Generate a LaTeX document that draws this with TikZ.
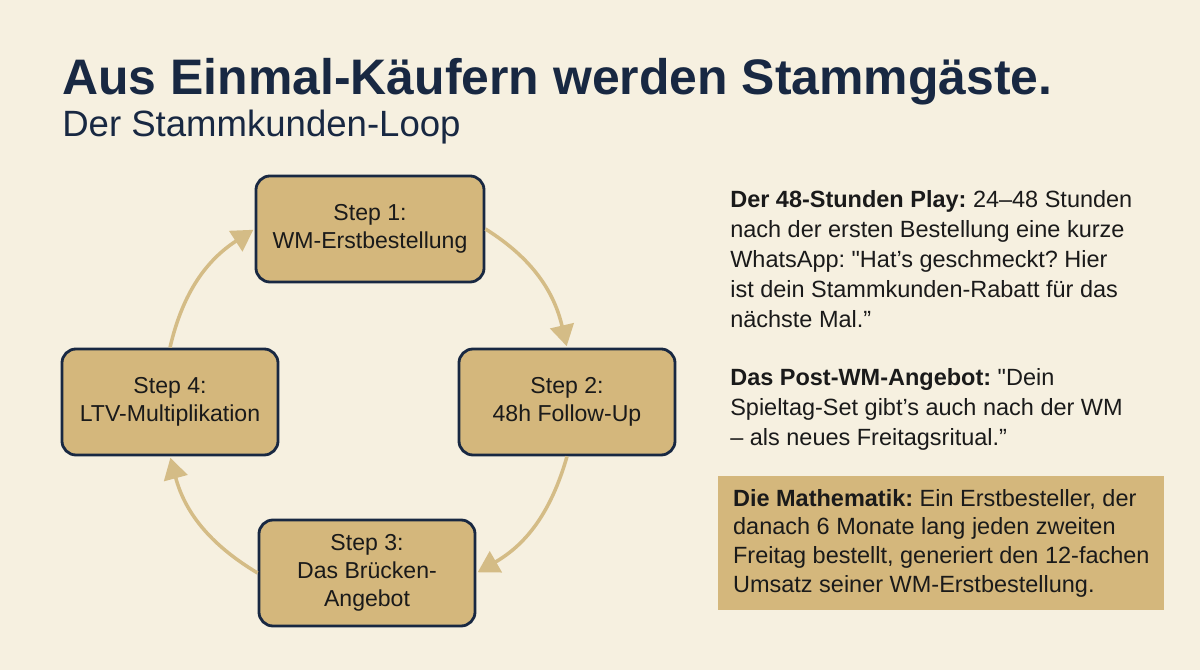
\documentclass[tikz,border=0pt]{standalone}
\usepackage{fontspec}
\setmainfont{Liberation Sans}
\setsansfont{Liberation Sans}
\usepackage{xcolor}
\usetikzlibrary{arrows.meta, positioning}

\definecolor{cream}{RGB}{246,240,224}
\definecolor{boxtan}{RGB}{212,183,124}
\definecolor{looptan}{RGB}{212,188,134}
\definecolor{navy}{RGB}{24,40,66}
\definecolor{ink}{RGB}{26,26,26}

\frenchspacing

\begin{document}
\begin{tikzpicture}[
        x=0.025cm, y=0.025cm,
        font=\sffamily,
        stepbox/.style={
            draw=navy,
            fill=boxtan,
            line width=2pt,
            rounded corners=10pt,
            align=center,
            text=ink,
            minimum width=5.4cm,
            minimum height=2.65cm,
            font=\sffamily\fontsize{16.4}{20}\selectfont
        },
        cycarrow/.style={
            draw=looptan,
            line width=2.5pt,
            -{Triangle[length=15pt, width=17pt]},
            shorten >=1pt
        },
        notetext/.style={
            anchor=north west,
            align=left,
            inner sep=0pt,
            text=ink,
            font=\sffamily\fontsize{16.7}{21.3}\selectfont
        }
    ]

        \fill[cream] (0,0) rectangle (1200,670);
        \useasboundingbox (0,0) rectangle (1200,670);

        \node[anchor=base west, inner sep=0pt, text=navy, font=\sffamily\bfseries\fontsize{35.5}{40}\selectfont] (title) at (62,575) {Aus Einmal-Käufern werden Stammgäste.};
        \node[anchor=base west, inner sep=0pt, text=navy, font=\sffamily\fontsize{26}{30}\selectfont] (subtitle) at (62,533) {Der Stammkunden-Loop};

        % der Loop
        \node[stepbox, minimum width=5.7cm] (s1) at (370,441) {Step 1:\\WM-Erstbestellung};
        \node[stepbox] (s2) at (567,268) {Step 2:\\48h Follow-Up};
        \node[stepbox] (s3) at (367,97) {Step 3:\\Das Brücken-\\Angebot};
        \node[stepbox] (s4) at (170,268) {Step 4:\\LTV-Multiplikation};

        \draw[cycarrow] (s1.east) to[out=-32, in=103] (s2.north);
        \draw[cycarrow] (s2.south) to[out=-106, in=30] (s3.east);
        \draw[cycarrow] (s3.west) to[out=149, in=-75] (s4.south);
        \draw[cycarrow] (s4.north) to[out=77, in=213] (s1.west);

        % rechte Spalte
        \node[notetext] (play) at (730,480) {\textbf{Der 48-Stunden Play:} 24–48 Stunden\\nach der ersten Bestellung eine kurze\\WhatsApp: \textquotedbl Hat’s geschmeckt? Hier\\ist dein Stammkunden-Rabatt für das\\nächste Mal.”};
        \node[notetext] (postwm) at (730,302) {\textbf{Das Post-WM-Angebot:} \textquotedbl Dein\\Spieltag-Set gibt’s auch nach der WM\\– als neues Freitagsritual.”};
        \node[notetext, fill=boxtan, inner xsep=0.325cm, inner ysep=0.32cm, minimum width=11.15cm, font=\sffamily\fontsize{16.7}{20.5}\selectfont] (mathe) at (718,194) {\textbf{Die Mathematik:} Ein Erstbesteller, der\\danach 6 Monate lang jeden zweiten\\Freitag bestellt, generiert den 12-fachen\\Umsatz seiner WM-Erstbestellung.};

    \end{tikzpicture}
\end{document}
